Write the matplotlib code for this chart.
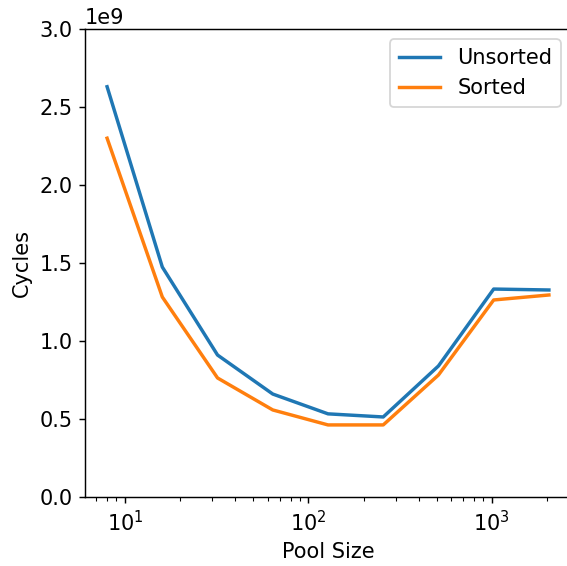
import matplotlib
matplotlib.use("Agg")
import matplotlib.pyplot as plt

pool_sizes = [8, 16, 32, 64, 128, 256, 512, 1024, 2048]
unsorted_cycles = [2.63e9, 1.474e9, 0.91e9, 0.66e9, 0.533e9, 0.513e9, 0.84e9, 1.333e9, 1.327e9]
sorted_cycles = [2.30e9, 1.282e9, 0.763e9, 0.558e9, 0.462e9, 0.462e9, 0.782e9, 1.263e9, 1.295e9]

dpi = 130
plt.rcParams["font.size"] = 11.6
plt.rcParams["lines.linewidth"] = 1.9
fig = plt.figure(figsize=(567 / dpi, 566 / dpi), dpi=dpi)
ax = fig.add_axes([85 / 567, (566 - 497) / 566, (571 - 85) / 567, (497 - 29) / 566])
ax.plot(pool_sizes, unsorted_cycles, label="Unsorted")
ax.plot(pool_sizes, sorted_cycles, label="Sorted")
ax.set_xscale("log")
ax.set_ylim(0, 3.0e9)
ax.set_xlabel("Pool Size")
ax.set_ylabel("Cycles")
ax.legend(loc="upper right")
fig.savefig("out.png", dpi=dpi)
